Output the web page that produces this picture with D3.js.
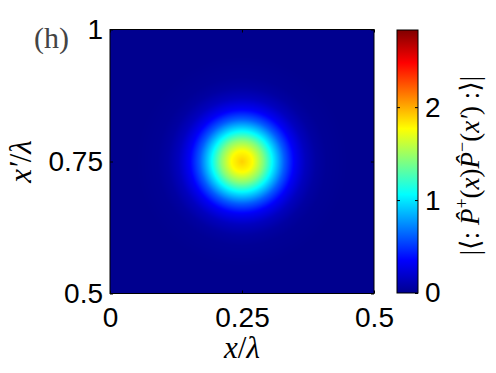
<!DOCTYPE html>
<html>
<head>
<meta charset="utf-8">
<script src="https://cdn.jsdelivr.net/npm/d3@7"></script>
<style>
  body { margin: 0; background: #fff; }
  .tick text { font-family: "Liberation Sans", Arial, sans-serif; font-size: 28px; fill: #000; }
  .tick line { stroke: #000; }
</style>
</head>
<body>
<div id="chart"></div>
<script>
// radial profile of the bright spot (distance from centre in x/lambda units -> value)
var profileR = [0, 0.02, 0.04, 0.06, 0.08, 0.10, 0.12, 0.14, 0.16, 0.20];
var profileV = [1.9, 1.77, 1.43, 1.00, 0.61, 0.32, 0.15, 0.06, 0.02, 0];
var spotCenter = [0.25, 0.75];

var xTicks = [0, 0.25, 0.5];
var yTicks = [0.5, 0.75, 1];
var cTicks = [0, 1, 2];
var cMax = 2.83;

// jet colormap stops
var jetPos = [0, 0.125, 0.375, 0.625, 0.875, 1];
var jetColors = ["#00008f", "#0000ff", "#00ffff", "#ffff00", "#ff0000", "#800000"];

var svgWidth = 496, svgHeight = 373;
var plot = { left: 110, right: 374, top: 29.5, bottom: 293.5 };
var cbar = { left: 397, right: 418, top: 30, bottom: 293 };

var svg = d3.select("#chart").append("svg")
  .attr("width", svgWidth)
  .attr("height", svgHeight)
  .style("display", "block");

var xScale = d3.scaleLinear().domain([0, 0.5]).range([plot.left, plot.right]);
var yScale = d3.scaleLinear().domain([0.5, 1]).range([plot.bottom, plot.top]);
var cScale = d3.scaleLinear().domain([0, cMax]).range([cbar.bottom, cbar.top]);

var colorScale = d3.scaleLinear()
  .domain(jetPos.map(p => p * cMax))
  .range(jetColors)
  .clamp(true);

var profile = d3.scaleLinear().domain(profileR).range(profileV).clamp(true);

// heat map drawn into a canvas, then placed as an image
var w = Math.round(plot.right - plot.left), h = Math.round(plot.bottom - plot.top);
var canvas = document.createElement("canvas");
canvas.width = w; canvas.height = h;
var ctx = canvas.getContext("2d");
var img = ctx.createImageData(w, h);
for (var j = 0; j < h; j++) {
  for (var i = 0; i < w; i++) {
    var dx = xScale.invert(plot.left + i + 0.5) - spotCenter[0];
    var dy = yScale.invert(plot.top + j + 0.5) - spotCenter[1];
    var v = profile(Math.sqrt(dx * dx + dy * dy));
    var c = d3.rgb(colorScale(v));
    var k = (j * w + i) * 4;
    img.data[k] = c.r; img.data[k + 1] = c.g; img.data[k + 2] = c.b; img.data[k + 3] = 255;
  }
}
ctx.putImageData(img, 0, 0);

svg.append("image")
  .attr("x", plot.left)
  .attr("y", plot.top)
  .attr("width", w)
  .attr("height", h)
  .attr("preserveAspectRatio", "none")
  .attr("href", canvas.toDataURL());

// axes with inward ticks
svg.append("g")
  .attr("transform", `translate(0, ${plot.bottom})`)
  .call(d3.axisBottom(xScale).tickValues(xTicks).tickFormat(d3.format("")).tickSizeInner(-3).tickSizeOuter(0).tickPadding(13.5))
  .call(g => g.select(".domain").remove());
svg.append("g")
  .attr("transform", `translate(0, ${plot.top})`)
  .call(d3.axisTop(xScale).tickValues(xTicks).tickFormat("").tickSizeInner(-3).tickSizeOuter(0))
  .call(g => g.select(".domain").remove());
svg.append("g")
  .attr("transform", `translate(${plot.left}, 0)`)
  .call(d3.axisLeft(yScale).tickValues(yTicks).tickFormat(d3.format("")).tickSizeInner(-3).tickSizeOuter(0).tickPadding(7))
  .call(g => g.select(".domain").remove());
svg.append("g")
  .attr("transform", `translate(${plot.right}, 0)`)
  .call(d3.axisRight(yScale).tickValues(yTicks).tickFormat("").tickSizeInner(-3).tickSizeOuter(0))
  .call(g => g.select(".domain").remove());

svg.append("rect")
  .attr("x", plot.left).attr("y", plot.top)
  .attr("width", plot.right - plot.left).attr("height", plot.bottom - plot.top)
  .attr("fill", "none").attr("stroke", "#000").attr("stroke-width", 1);

// colorbar
var grad = svg.append("defs").append("linearGradient")
  .attr("id", "jet").attr("x1", 0).attr("y1", 1).attr("x2", 0).attr("y2", 0);
grad.selectAll("stop").data(jetPos).enter().append("stop")
  .attr("offset", d => d)
  .attr("stop-color", (d, i) => jetColors[i]);

svg.append("rect")
  .attr("x", cbar.left).attr("y", cbar.top)
  .attr("width", cbar.right - cbar.left).attr("height", cbar.bottom - cbar.top)
  .attr("fill", "url(#jet)");

svg.append("g")
  .attr("transform", `translate(${cbar.right}, 0)`)
  .call(d3.axisRight(cScale).tickValues(cTicks).tickFormat(d3.format("")).tickSizeInner(-3).tickSizeOuter(0).tickPadding(7))
  .call(g => g.select(".domain").remove());
svg.append("g")
  .attr("transform", `translate(${cbar.left}, 0)`)
  .call(d3.axisLeft(cScale).tickValues(cTicks.slice(1)).tickFormat("").tickSizeInner(-3).tickSizeOuter(0))
  .call(g => g.select(".domain").remove());

svg.append("rect")
  .attr("x", cbar.left).attr("y", cbar.top)
  .attr("width", cbar.right - cbar.left).attr("height", cbar.bottom - cbar.top)
  .attr("fill", "none").attr("stroke", "#000").attr("stroke-width", 1);

// labels
var serif = "'Liberation Serif', 'DejaVu Serif', serif";

svg.append("text")
  .attr("x", 34).attr("y", 48)
  .attr("font-family", serif).attr("font-size", 30).attr("fill", "#444")
  .text("(h)");

var xl = svg.append("text")
  .attr("x", (plot.left + plot.right) / 2).attr("y", 358)
  .attr("text-anchor", "middle")
  .attr("font-family", serif).attr("font-size", 31);
xl.append("tspan").attr("font-style", "italic").text("x");
xl.append("tspan").text("/");
xl.append("tspan").attr("font-style", "italic").text("λ");

var yl = svg.append("text")
  .attr("transform", `translate(31, ${(plot.top + plot.bottom) / 2}) rotate(-90)`)
  .attr("text-anchor", "middle")
  .attr("font-family", serif).attr("font-size", 31);
yl.append("tspan").attr("font-style", "italic").text("x′");
yl.append("tspan").text("/");
yl.append("tspan").attr("font-style", "italic").text("λ");

var cl = svg.append("text")
  .attr("transform", `translate(479, ${(cbar.top + cbar.bottom) / 2 + 4}) rotate(-90)`)
  .attr("text-anchor", "middle")
  .attr("font-family", serif).attr("font-size", 27);
cl.append("tspan").text("|⟨: ");
cl.append("tspan").attr("font-style", "italic").text("P\u0302");
cl.append("tspan").attr("font-size", 18).attr("dy", -11).text("+");
cl.append("tspan").attr("dy", 11).text("(");
cl.append("tspan").attr("font-style", "italic").text("x");
cl.append("tspan").text(")");
cl.append("tspan").attr("font-style", "italic").text("P\u0302");
cl.append("tspan").attr("font-size", 18).attr("dy", -11).text("−");
cl.append("tspan").attr("dy", 11).text("(");
cl.append("tspan").attr("font-style", "italic").text("x′");
cl.append("tspan").text(") :⟩|");
</script>
</body>
</html>
